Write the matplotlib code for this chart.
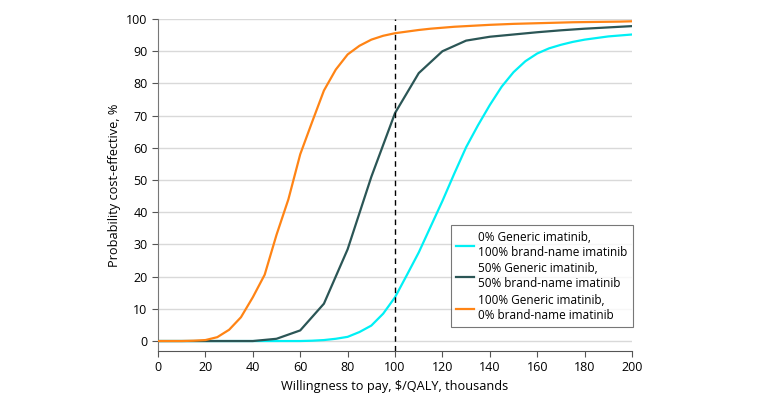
import matplotlib
matplotlib.use('Agg')
from matplotlib import pyplot as plt

# data (thousand $/QALY vs % cost-effective)
wtp = [0, 5, 10, 15, 20, 25, 30, 35, 40, 45, 50, 55, 60, 65, 70, 75, 80,
       85, 90, 95, 100, 105, 110, 115, 120, 125, 130, 135, 140, 145, 150,
       155, 160, 165, 170, 175, 180, 185, 190, 195, 200]
generic_0 = [0, 0, 0, 0, 0, 0, 0, 0, 0, 0, 0, 0, 0, 0.1, 0.3, 0.7, 1.3,
             2.8, 4.8, 8.5, 13.6, 20.5, 27.5, 35.5, 43.5, 52, 60.2, 67,
             73.3, 79, 83.5, 86.9, 89.3, 90.9, 92, 92.9, 93.6, 94.1, 94.6,
             94.9, 95.2]
wtp_50 = [0, 10, 20, 30, 40, 50, 60, 70, 80, 90, 100,
          110, 120, 130, 140, 150, 160, 170, 180, 190, 200]
generic_50 = [0, 0, 0, 0, 0, 0.7, 3.3, 11.6, 28.5, 51, 70.8,
              83.2, 90, 93.3, 94.5, 95.2, 95.9, 96.5, 97, 97.4, 97.8]
generic_100 = [0, 0, 0, 0.1, 0.3, 1.2, 3.5, 7.4, 13.6, 20.6, 33, 44,
               58, 68, 77.8, 84.3, 89, 91.7, 93.6, 94.8, 95.6, 96.1, 96.6,
               97.0, 97.3, 97.6, 97.8, 98.0, 98.2, 98.35, 98.5, 98.6, 98.7,
               98.8, 98.9, 99.0, 99.05, 99.1, 99.15, 99.2, 99.3]
labels = ['0% Generic imatinib,\n100% brand-name imatinib',
          '50% Generic imatinib,\n50% brand-name imatinib',
          '100% Generic imatinib,\n0% brand-name imatinib']
colors = ['#00F0F5', '#2B5656', '#FF8415']
xticks = list(range(0, 201, 20))
yticks = list(range(0, 101, 10))

plt.rcParams['font.family'] = ['Open Sans', 'DejaVu Sans']

fig = plt.figure(figsize=(7.8, 4.05), dpi=100)
ax = fig.add_axes((0.2026, 0.1333, 0.6077, 0.8197))

series = [(wtp, generic_0), (wtp_50, generic_50), (wtp, generic_100)]
for (xs, ys), lab, c in zip(series, labels, colors):
    ax.plot(xs, ys, color=c, lw=1.6, label=lab, zorder=3)

ax.axvline(100, color='black', lw=1.0, ls=(0, (4, 3)), zorder=4)

ax.set_xlim(0, 200)
ax.set_ylim(-3.1, 100)
ax.set_xticks(xticks)
ax.set_yticks(yticks)
ax.tick_params(labelsize=9, length=4, color='#555555')
for t in yticks:
    ax.axhline(t, color='#d9d9d9', lw=1.0, zorder=1)

for s in ['top', 'right']:
    ax.spines[s].set_visible(False)
ax.spines['left'].set_color('#777777')
ax.spines['bottom'].set_color('#555555')

ax.set_xlabel('Willingness to pay, $/QALY, thousands', fontsize=9.2)
ax.set_ylabel('Probability cost-effective, %', fontsize=9.2)

leg = ax.legend(loc='lower right', bbox_to_anchor=(1.002, 0.072),
                borderaxespad=0, fontsize=8.5, frameon=True, fancybox=False,
                handlelength=1.5, handletextpad=0.4, labelspacing=0.3,
                borderpad=0.45)
leg.get_frame().set_edgecolor('#555555')
leg.get_frame().set_linewidth(0.8)

plt.savefig('out.png')
